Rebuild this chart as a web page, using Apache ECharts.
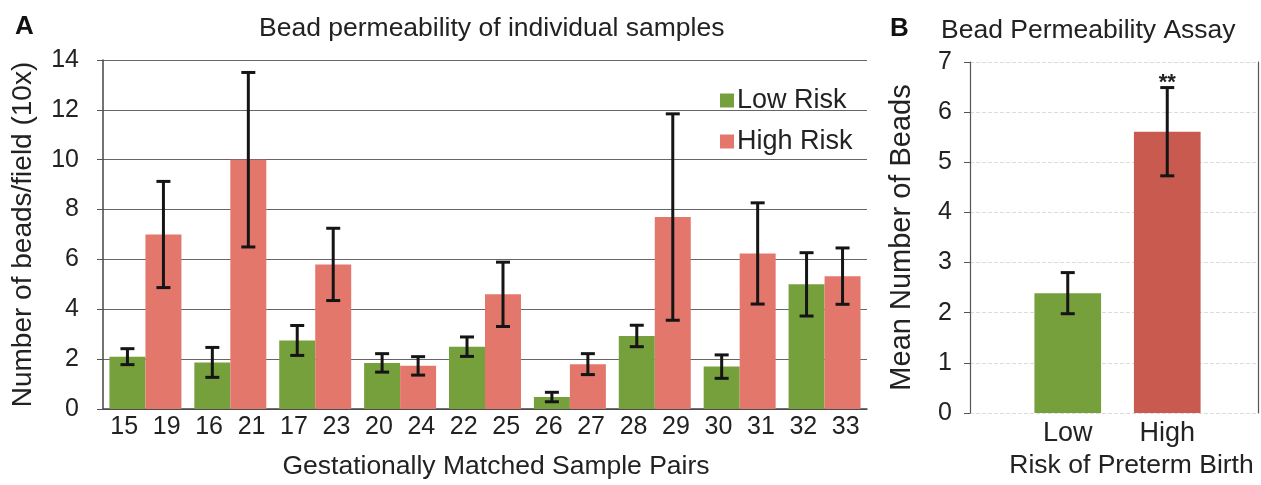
<!DOCTYPE html>
<html>
<head>
<meta charset="utf-8">
<script src="https://cdn.jsdelivr.net/npm/echarts@6/dist/echarts.min.js"></script>
<style>html,body{margin:0;padding:0;background:#fff}#c{width:1261px;height:485px}</style>
</head>
<body>
<div id="c"></div>
<script>
// ---- Data (panel A) ----
var pairIndex = ['P1','P2','P3','P4','P5','P6','P7','P8','P9'];
var lowIds  = ['15','16','17','20','22','26','28','30','32'];
var highIds = ['19','21','23','24','25','27','29','31','33'];
var lowRisk  = [2.1, 1.87, 2.75, 1.85, 2.5, 0.48, 2.93, 1.7, 5.0];
var lowErr   = [0.32, 0.6, 0.6, 0.37, 0.39, 0.19, 0.43, 0.47, 1.27];
var highRisk = [7.0, 10.0, 5.8, 1.73, 4.6, 1.8, 7.7, 6.24, 5.33];
var highErr  = [2.13, 3.5, 1.45, 0.37, 1.29, 0.42, 4.14, 2.03, 1.13];
var yTicksA = [0, 14, 2];

// ---- Data (panel B) ----
var groupsB = ['Low', 'High'];
var meanB   = [2.39, 5.61];
var errB    = [0.41, 0.88];
var sigB    = ['', '**'];
var yTicksB = [0, 7, 1];

var GREEN = '#76a03c', RED_A = '#e4776c', RED_B = '#c95a4f', INK = '#222';
var FONT = '"Liberation Sans", Arial, sans-serif';

var sampleIds = [];
for (var i = 0; i < lowIds.length; i++) { sampleIds.push(lowIds[i]); sampleIds.push(highIds[i]); }

var errA = [];
for (var j = 0; j < pairIndex.length; j++) {
  errA.push([j, lowRisk[j], lowErr[j], -1]);
  errA.push([j, highRisk[j], highErr[j], 1]);
}
var errBData = [];
for (var k = 0; k < groupsB.length; k++) errBData.push([k, meanB[k], errB[k], 0]);

function makeErr(frac, labels) {
  return function (params, api) {
    var i = api.value(0), v = api.value(1), e = api.value(2), side = api.value(3);
    var band = api.size([1, 0])[0];
    var x = api.coord([i, 0])[0] + side * band * frac;
    var top = api.coord([i, v + e])[1], bot = api.coord([i, v - e])[1];
    var cap = 7, st = { stroke: '#151515', lineWidth: 3 };
    var ch = [
      { type: 'line', shape: { x1: x, y1: top, x2: x, y2: bot }, style: st },
      { type: 'line', shape: { x1: x - cap, y1: top, x2: x + cap, y2: top }, style: st },
      { type: 'line', shape: { x1: x - cap, y1: bot, x2: x + cap, y2: bot }, style: st }
    ];
    var lab = labels ? labels[params.dataIndex] : '';
    if (lab) ch.push({ type: 'text', style: { text: lab, x: x, y: top + 6, textAlign: 'center', textVerticalAlign: 'bottom', fontSize: 22, fontWeight: 'bold', fill: '#222', fontFamily: FONT } });
    return { type: 'group', children: ch };
  };
}

function lbl(size, extra) { return Object.assign({ fontSize: size, color: INK, fontFamily: FONT }, extra || {}); }

var option = {
  animation: false,
  backgroundColor: '#fff',
  textStyle: { fontFamily: FONT },
  title: [
    { text: 'A', left: 10, top: 9, textStyle: { fontSize: 26, fontWeight: 'bold', color: '#111', fontFamily: FONT } },
    { text: 'Bead permeability of individual samples', left: 254, top: 10, textStyle: { fontSize: 26.5, fontWeight: 'normal', color: INK, fontFamily: FONT } },
    { text: 'B', left: 885, top: 11, textStyle: { fontSize: 26, fontWeight: 'bold', color: '#111', fontFamily: FONT } },
    { text: 'Bead Permeability Assay', left: 936, top: 12, textStyle: { fontSize: 26.5, fontWeight: 'normal', color: INK, fontFamily: FONT } }
  ],
  legend: {
    data: ['Low Risk', 'High Risk'], orient: 'vertical', left: 715, top: 82,
    itemWidth: 14, itemHeight: 14, itemGap: 14, icon: 'rect',
    textStyle: lbl(27, { padding: [0, 0, 0, -2] })
  },
  grid: [
    { left: 103, top: 60, right: 394, bottom: 75 },
    { left: 970, top: 62, right: 3, bottom: 72 },
    { left: 1018, top: 62, right: 44, bottom: 72 }
  ],
  xAxis: [
    { gridIndex: 0, type: 'category', data: pairIndex, axisLine: { lineStyle: { color: '#444', width: 1.5 } }, axisTick: { show: false }, axisLabel: { show: false },
      name: 'Gestationally Matched Sample Pairs', nameLocation: 'middle', nameGap: 44, nameTextStyle: lbl(26.5, { padding: [0, 0, 0, 22] }) },
    { gridIndex: 0, type: 'category', data: sampleIds, position: 'bottom', axisLine: { show: false }, axisTick: { show: false }, axisLabel: lbl(25, { margin: 6, interval: 0 }) },
    { gridIndex: 1, type: 'category', data: groupsB, show: false },
    { gridIndex: 2, type: 'category', data: groupsB, axisLine: { show: false }, axisTick: { show: false }, axisLabel: lbl(27, { margin: 7 }),
      name: 'Risk of Preterm Birth', nameLocation: 'middle', nameGap: 37, nameTextStyle: lbl(26.5, { padding: [0, 0, 0, 28] }) }
  ],
  yAxis: [
    { gridIndex: 0, type: 'value', min: yTicksA[0], max: yTicksA[1], interval: yTicksA[2],
      axisLine: { show: true, lineStyle: { color: '#444', width: 1.5 } }, axisTick: { show: true, length: 6, lineStyle: { color: '#555' } },
      splitLine: { lineStyle: { color: '#666', width: 1.2 } },
      axisLabel: lbl(25, { margin: 24 }),
      name: 'Number of beads/field (10x)', nameLocation: 'middle', nameRotate: 90, nameGap: 66, nameTextStyle: lbl(28) },
    { gridIndex: 1, type: 'value', min: yTicksB[0], max: yTicksB[1], interval: yTicksB[2],
      axisLine: { show: true, lineStyle: { color: '#555', width: 1.2 } }, axisTick: { show: true, length: 6, lineStyle: { color: '#555' } },
      splitLine: { lineStyle: { color: '#dcdcdc', width: 1, type: 'dashed' } },
      axisLabel: lbl(25, { margin: 18 }),
      name: 'Mean Number of Beads', nameLocation: 'middle', nameRotate: 90, nameGap: 54, nameTextStyle: lbl(29) },
    { gridIndex: 1, type: 'value', position: 'right', min: yTicksB[0], max: yTicksB[1], interval: yTicksB[2],
      axisLine: { show: true, lineStyle: { color: '#555', width: 1.2 } }, axisTick: { show: false }, axisLabel: { show: false }, splitLine: { show: false } },
    { gridIndex: 2, type: 'value', min: yTicksB[0], max: yTicksB[1], interval: yTicksB[2], show: false, splitLine: { show: false } }
  ],
  series: [
    { name: 'Low Risk', type: 'bar', xAxisIndex: 0, yAxisIndex: 0, data: lowRisk, barWidth: '42.4%', barGap: '0%', itemStyle: { color: GREEN } },
    { name: 'High Risk', type: 'bar', xAxisIndex: 0, yAxisIndex: 0, data: highRisk, barWidth: '42.4%', barGap: '0%', itemStyle: { color: RED_A } },
    { id: 'errA', type: 'custom', xAxisIndex: 0, yAxisIndex: 0, data: errA, renderItem: makeErr(0.212, null), encode: { x: 0, y: 1 }, z: 5 },
    { name: 'Mean', type: 'bar', xAxisIndex: 3, yAxisIndex: 3, barWidth: '67%',
      data: meanB.map(function (v, i) { return { value: v, itemStyle: { color: i === 0 ? GREEN : RED_B } }; }) },
    { id: 'errB', type: 'custom', xAxisIndex: 3, yAxisIndex: 3, data: errBData, renderItem: makeErr(0, sigB), encode: { x: 0, y: 1 }, z: 5 }
  ]
};
var chart = echarts.init(document.getElementById('c'), null, { renderer: 'canvas' });
chart.setOption(option);
</script>
</body>
</html>
